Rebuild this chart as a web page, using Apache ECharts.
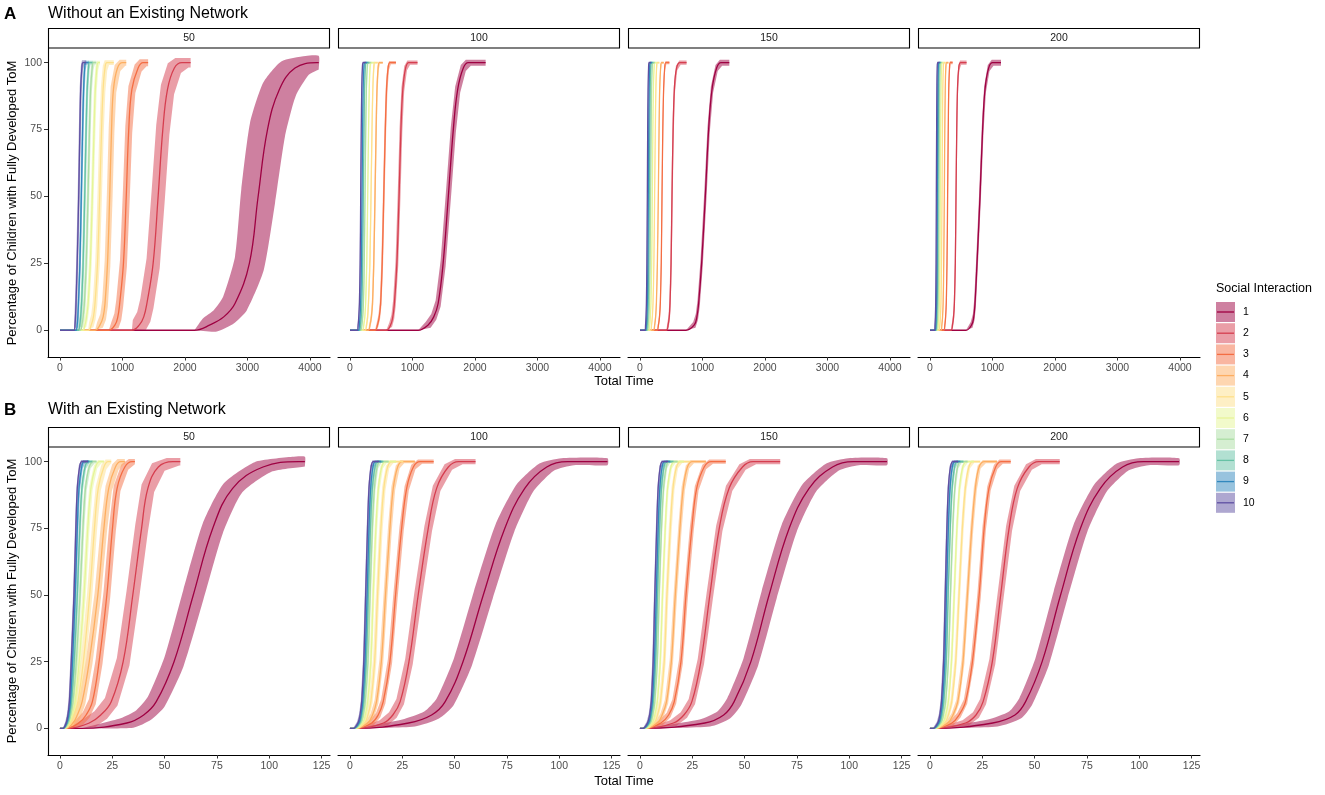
<!DOCTYPE html>
<html><head><meta charset="utf-8">
<script src="https://cdn.jsdelivr.net/npm/echarts@6/dist/echarts.min.js"></script>
<style>html,body{margin:0;padding:0;background:#fff}#c{width:1325px;height:795px}</style>
</head><body><div id="c"></div>
<script>
// ---------- data ----------
const levels = [0, 2, 5, 10, 25, 50, 75, 90, 98, 100];       // % levels at which curve x-positions are read
const facets = ['50', '100', '150', '200'];
const groups = ['1','2','3','4','5','6','7','8','9','10'];
const colors = ['#9E0142','#D53E4F','#F46D43','#FDAE61','#FEE08B','#E6F598','#ABDDA4','#66C2A5','#3288BD','#5E4FA2'];
const ticksA = [0, 1000, 2000, 3000, 4000];
const ticksB = [0, 25, 50, 75, 100, 125];
const ticksY = [0, 25, 50, 75, 100];

// Panel A (Without an Existing Network): time at which mean reaches each level, per social interaction 1..10
const A50 = [
 [2150,2400,2620,2800,3030,3170,3320,3510,3760,4110],
 [1150,1270,1340,1390,1490,1570,1645,1720,1830,1950],
 [780,880,925,955,1015,1060,1100,1150,1250,1330],
 [560,640,690,720,760,795,825,855,920,1000],
 [450,500,535,560,600,635,665,690,720,750],
 [360,400,425,450,485,517,545,565,590,610],
 [320,350,370,390,420,448,472,490,515,535],
 [290,315,330,345,370,395,418,435,455,470],
 [255,275,285,295,318,341,362,378,395,410],
 [225,240,248,256,275,299,318,331,350,368]
];
const A50end = [4140,2090,1410,1060,860,640,580,520,460,420];
const A100 = [
 [1090,1250,1340,1410,1490,1573,1653,1723,1813,1893],
 [580,650,685,710,750,785,815,845,890,940],
 [400,440,468,490,515,540,565,585,610,640],
 [290,320,342,360,380,400,418,432,450,470],
 [240,265,282,295,318,336,352,365,380,395],
 [200,220,237,250,268,283,297,308,320,335],
 [170,190,203,215,228,240,252,262,275,290],
 [150,168,180,190,202,213,224,233,245,258],
 [135,150,160,170,182,192,202,210,222,235],
 [115,130,140,150,162,171,180,188,198,210]
];
const A100end = [2170,1080,735,525,445,390,340,310,280,255];
const A150 = [
 [735,869,910,938,986,1045,1098,1152,1226,1296],
 [420,450,468,480,497,512,530,550,585,640],
 [270,295,312,325,340,352,365,378,395,415],
 [215,235,250,262,278,293,305,315,330,345],
 [170,185,197,208,222,234,245,254,265,278],
 [140,155,165,175,187,197,206,214,225,238],
 [120,133,142,150,161,170,178,185,195,207],
 [105,116,124,132,141,149,157,163,172,182],
 [92,102,110,117,126,133,140,146,154,163],
 [80,89,96,102,110,117,123,129,137,145]
];
const A150end = [1429,745,470,380,310,270,240,215,195,175];
const A200 = [
 [575,666,700,720,752,800,842,880,938,1002],
 [335,360,377,390,405,416,428,440,460,490],
 [220,238,250,260,272,282,292,300,312,325],
 [175,190,201,210,220,229,237,244,253,265],
 [145,157,167,175,184,192,199,205,213,223],
 [122,133,142,150,158,165,171,177,184,193],
 [105,115,123,130,138,144,150,155,162,170],
 [93,102,109,115,122,128,133,138,144,152],
 [85,93,99,105,112,117,122,126,132,140],
 [72,80,86,91,97,101,106,110,115,122]
];
const A200end = [1136,585,362,295,250,220,195,178,165,150];

// Panel B (With an Existing Network)
const B50 = [
 [10,32,40,46,54.5,63.7,73,82.5,97,114],
 [4,14,19.5,24.5,30.2,34.8,39,42,47,54],
 [3.5,9,12.5,15.5,18.7,22.4,25.1,27.3,31,34.5],
 [2.8,6.2,8.3,10.6,14,18.1,21,23.3,26.5,29],
 [2.4,5.2,6.8,8.6,11.2,14.2,16.5,18.3,21,23],
 [2.1,4.5,5.8,7.2,9.2,11.5,13.3,14.8,17,19],
 [1.9,4,5.1,6.2,7.8,9.6,11,12.2,14,16],
 [1.7,3.6,4.6,5.5,6.8,8.3,9.5,10.5,12,13.5],
 [1.5,3.3,4.2,5,6,7.3,8.3,9.1,10.4,11.5],
 [1.4,3,3.8,4.5,5.4,6.7,7.6,8.3,9.4,10.5]
];
const B50end = [117,57.5,35.8,31,24.5,21,17.5,15.5,14,13.4];
const B100 = [
 [3,28,39,45.5,54,63.7,74,83.5,94,104],
 [4,16,20.5,24,28.2,32.6,37.4,41.4,47,52],
 [3.5,10.4,13.5,15.9,19.1,21.8,24.7,27.1,30.3,33.5],
 [3,8.5,10.8,12.7,15,17,19.1,20.7,22.8,25],
 [2.8,7,8.6,10,11.8,13.2,14.8,16.2,18,20],
 [2.5,6,7.3,8.5,10,11.1,12.4,13.6,15.2,17],
 [2.2,5.2,6.3,7.3,8.6,9.6,10.7,11.7,13,14.5],
 [2,4.7,5.7,6.6,7.8,8.8,9.8,10.7,12,13.3],
 [1.8,4.3,5.3,6.1,7.2,8.2,9.1,9.9,11,12.2],
 [1.5,3.8,4.8,5.6,6.6,7.5,8.4,9.1,10.1,11.2]
];
const B100end = [123,60,40,31,25.5,22,18.5,16,15,14];
const B150 = [
 [2,31,40,45,53,61.7,71.3,80.8,92,102],
 [3,16,21,24.8,29.1,33.4,37.9,42.6,49,54],
 [3,10,13.7,16.4,19.6,22,24.8,27.1,30.7,34],
 [2.8,8.3,10.6,12.7,15,16.9,19.1,20.7,22.7,25],
 [2.5,6.8,8.4,9.8,11.6,12.9,14.5,15.8,17.5,19.5],
 [2.3,5.8,7.1,8.3,9.7,10.8,12.1,13.2,14.8,16.5],
 [2,5,6.1,7.1,8.3,9.2,10.3,11.3,12.6,14],
 [1.8,4.5,5.5,6.4,7.5,8.4,9.4,10.3,11.5,12.8],
 [1.6,4.1,5.1,5.9,6.9,7.8,8.7,9.5,10.6,11.8],
 [1.4,3.6,4.6,5.4,6.3,7.1,8,8.7,9.7,10.8]
];
const B150end = [118,67,41,31.5,24,21,18,16,14.5,13.5];
const B200 = [
 [2,30,40.6,45.7,53.6,62.4,71.9,81.4,92,102],
 [3,17,22,25.4,29.8,33.8,37.8,41.7,47.3,52],
 [3,10.5,13.9,17,20.3,23.5,25.9,28.2,31.4,34],
 [2.8,8.5,11,13.3,15.8,17.9,20,21.7,23.5,26],
 [2.5,7,8.8,10.4,12.3,13.9,15.5,16.9,18.6,20.5],
 [2.3,6,7.5,8.8,10.3,11.6,12.9,14.1,15.7,17.5],
 [2,5.2,6.4,7.5,8.8,9.8,10.9,11.9,13.2,14.7],
 [1.8,4.6,5.7,6.6,7.8,8.7,9.7,10.6,11.8,13.1],
 [1.6,4.2,5.2,6,7.1,7.9,8.8,9.6,10.7,11.9],
 [1.4,3.7,4.7,5.5,6.5,7.3,8.1,8.8,9.8,11]
];
const B200end = [119,62,38.6,32,24,21,18,16,14.5,13.5];

// ribbon half-widths (time units) and vertical half-thickness (%), per social interaction
const A50w = [[0,110,160,190,230,270,280,260,220,180],105,55,45,35,22,20,18,16,16];
const A100w = [40,22,14,11,9,7,7,6,6,6];
const A150w = [18,11,7,6,5,4.5,4.5,4.5,4.5,4.5];
const A200w = [14,9,6,5,4.5,4.5,4.5,4.5,4.5,4.5];
const A50v = [2.5,1.8,1.3,1.1,0.9,0.7,0.7,0.7,0.7,0.9];
const Av = [1.1,0.8,0.6,0.5,0.5,0.5,0.5,0.5,0.5,0.5];
const B50w = [[0,3,3.5,4,4.5,4.8,4.8,4.3,4,3],3,1.6,1.5,1.2,0.8,0.6,0.5,0.5,0.4];
const B100w = [[0,3,3.5,4,4.3,4.5,4.5,4,3.5,3],1.8,1,0.9,0.8,0.6,0.5,0.4,0.4,0.4];
const B150w = [[0,2.5,3,3.3,3.5,3.6,3.6,3.3,3,2.5],1.5,0.9,0.8,0.7,0.5,0.4,0.4,0.4,0.4];
const B200w = [[0,2.3,2.8,3,3.2,3.3,3.3,3,2.8,2.4],1.4,0.8,0.7,0.6,0.5,0.4,0.4,0.4,0.4];
const B50v = [1.8,1.4,1,1,0.8,0.6,0.6,0.6,0.6,0.6];
const Bv = [1.3,1,0.8,0.6,0.5,0.5,0.5,0.5,0.5,0.5];

// ---------- build ----------
const FONT = 'Liberation Sans, Arial, Helvetica, sans-serif';
const panels = [
 {row:0,col:0,mid:A50,end:A50end,w:A50w,v:A50v},
 {row:0,col:1,mid:A100,end:A100end,w:A100w,v:Av},
 {row:0,col:2,mid:A150,end:A150end,w:A150w,v:Av},
 {row:0,col:3,mid:A200,end:A200end,w:A200w,v:Av},
 {row:1,col:0,mid:B50,end:B50end,w:B50w,v:B50v},
 {row:1,col:1,mid:B100,end:B100end,w:B100w,v:Bv},
 {row:1,col:2,mid:B150,end:B150end,w:B150w,v:Bv},
 {row:1,col:3,mid:B200,end:B200end,w:B200w,v:Bv}
];
function rgba(hex, a) {
  const n = parseInt(hex.slice(1), 16);
  return 'rgba(' + (n >> 16) + ',' + ((n >> 8) & 255) + ',' + (n & 255) + ',' + a + ')';
}
const colLeft = [48, 338, 628, 918];
const grids = [], xAxes = [], yAxes = [], series = [], graphics = [];
panels.forEach((p, k) => {
  const top = p.row === 0 ? 48 : 447;
  const h = p.row === 0 ? 309 : 308;
  grids.push({left: colLeft[p.col], top: top, width: 282, height: h, containLabel: false, outerBoundsMode: 'none'});
  const ticks = p.row === 0 ? ticksA : ticksB;
  xAxes.push({
    type: 'value', gridIndex: k,
    min: p.row === 0 ? -192 : -5.7, max: p.row === 0 ? 4320 : 129,
    axisLine: {show: true, onZero: false, lineStyle: {color: '#000', width: 1.1}},
    axisTick: {show: true, customValues: ticks, length: 3.5, lineStyle: {color: '#333', width: 1}},
    axisLabel: {customValues: ticks, color: '#4d4d4d', fontSize: 10.5, margin: 6, fontFamily: FONT,
                formatter: v => String(v)},
    splitLine: {show: false}
  });
  const showY = p.col === 0;
  yAxes.push({
    type: 'value', gridIndex: k, min: -10, max: 105.5, show: showY,
    axisLine: {show: true, onZero: false, lineStyle: {color: '#000', width: 1.1}},
    axisTick: {show: true, customValues: ticksY, length: 4, lineStyle: {color: '#333', width: 1}},
    axisLabel: {customValues: ticksY, color: '#4d4d4d', fontSize: 10.5, margin: 6, fontFamily: FONT,
                formatter: v => String(v)},
    splitLine: {show: false}
  });
  // ribbons first (all groups), then lines
  for (let s = 0; s < 10; s++) {
    const mid = p.mid[s], end = p.end[s];
    const w = p.w[s], v = p.v[s];
    const wAt = i => Array.isArray(w) ? w[i] : (i === 0 ? 0 : w);
    const vAt = i => (i === 0 ? 0 : v);
    const upper = levels.map((l, i) => [mid[i] - wAt(i), l + vAt(i)]);
    upper.push([end, 100 + v]);
    const lower = levels.map((l, i) => [Math.min(mid[i] + wAt(i), end), l - vAt(i)]);
    lower.push([end, 100 - v]);
    const pts = upper.concat(lower.reverse());
    const fill = rgba(colors[s], 0.5);
    const sm = Array.isArray(w) ? 0.2 : 0;
    series.push({
      type: 'custom', name: groups[s], xAxisIndex: k, yAxisIndex: k, data: pts, z: 1, silent: true,
      renderItem: function (params, api) {
        if (params.dataIndex !== 0) return null;
        return {type: 'polygon', shape: {points: pts.map(q => api.coord(q)), smooth: sm},
                style: {fill: fill, stroke: null}};
      }
    });
  }
  for (let s = 0; s < 10; s++) {
    const mid = p.mid[s];
    const data = [[0, 0]].concat(levels.map((l, i) => [mid[i], l])).concat([[p.end[s], 100]]);
    series.push({
      type: 'line', name: groups[s], xAxisIndex: k, yAxisIndex: k, data: data, z: 3,
      symbol: 'none', showSymbol: false, smooth: 0.4, silent: true,
      lineStyle: {color: colors[s], width: 1.3}
    });
  }
  // facet strip
  graphics.push({type: 'rect', shape: {x: colLeft[p.col] + 0.5, y: top - 20 + 0.5, width: 281, height: 19.5},
                 style: {fill: '#fff', stroke: '#000', lineWidth: 1.1}});
  graphics.push({type: 'text', x: colLeft[p.col] + 141, y: top - 10,
                 style: {text: facets[p.col], fontSize: 10.5, fontFamily: FONT, fill: '#1a1a1a',
                         textAlign: 'center', textVerticalAlign: 'middle', align: 'center', verticalAlign: 'middle'}});
});

function txt(t, x, y, size, opts) {
  opts = opts || {};
  return {type: 'text', x: x, y: y, rotation: opts.rot || 0,
          style: {text: t, fontSize: size, fontFamily: FONT, fontWeight: opts.bold ? 'bold' : 'normal',
                  fill: opts.fill || '#000', textAlign: opts.align || 'left', align: opts.align || 'left',
                  textVerticalAlign: 'middle', verticalAlign: 'middle'}};
}
graphics.push(txt('A', 4, 14, 17, {bold: true}));
graphics.push(txt('Without an Existing Network', 48, 14, 16));
graphics.push(txt('B', 4, 410, 17, {bold: true}));
graphics.push(txt('With an Existing Network', 48, 410, 16));
graphics.push(txt('Percentage of Children with Fully Developed ToM', 12, 203, 13, {rot: Math.PI / 2, align: 'center'}));
graphics.push(txt('Percentage of Children with Fully Developed ToM', 12, 601, 13, {rot: Math.PI / 2, align: 'center'}));
graphics.push(txt('Total Time', 624, 381, 13, {align: 'center'}));
graphics.push(txt('Total Time', 624, 781, 13, {align: 'center'}));
// legend
graphics.push(txt('Social Interaction', 1216, 289, 12.5));
groups.forEach((g, i) => {
  const y0 = 302 + 21.2 * i;
  graphics.push({type: 'rect', shape: {x: 1216, y: y0, width: 19, height: 20}, style: {fill: rgba(colors[i], 0.5)}});
  graphics.push({type: 'line', shape: {x1: 1217, y1: y0 + 10, x2: 1234, y2: y0 + 10},
                 style: {stroke: colors[i], lineWidth: 1.3}});
  graphics.push(txt(g, 1243, y0 + 10, 10.5, {fill: '#000'}));
});

const chart = echarts.init(document.getElementById('c'), null, {renderer: 'canvas'});
chart.setOption({
  animation: false,
  backgroundColor: '#fff',
  grid: grids, xAxis: xAxes, yAxis: yAxes, series: series,
  graphic: {elements: graphics}
});
</script>
</body></html>
